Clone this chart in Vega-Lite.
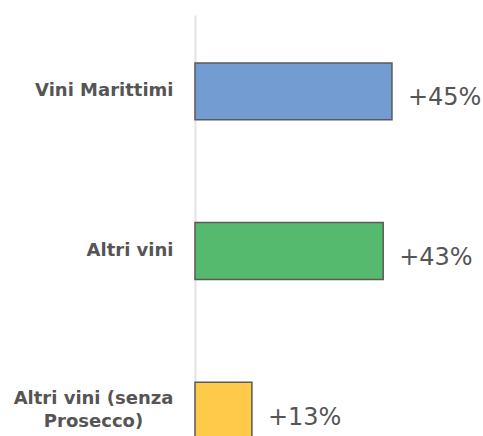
{
  "$schema": "https://vega.github.io/schema/vega-lite/v6.json",
  "autosize": "none",
  "padding": {"left": 195, "top": 15, "right": 0, "bottom": 0},
  "width": 288,
  "height": 472,
  "background": "white",
  "config": {"view": {"stroke": null}},
  "data": {
    "values": [
      {"categoria": "Vini Marittimi", "crescita": 45, "etichetta": "+45%"},
      {"categoria": "Altri vini", "crescita": 43, "etichetta": "+43%"},
      {"categoria": "Altri vini (senza Prosecco)", "crescita": 13, "etichetta": "+13%"}
    ]
  },
  "encoding": {
    "y": {
      "field": "categoria",
      "type": "nominal",
      "sort": null,
      "scale": {"paddingInner": 0.643, "paddingOuter": 0.3},
      "axis": {
        "title": null,
        "ticks": false,
        "tickSize": 0,
        "domainColor": "#e3e3e3",
        "domainWidth": 2,
        "labelFont": "DejaVu Sans",
        "labelFontWeight": "bold",
        "labelFontSize": 18,
        "labelColor": "#555555",
        "labelLineHeight": 23,
        "labelLimit": 300,
        "labelBaseline": "middle",
        "labelExpr": "datum.value == 'Altri vini (senza Prosecco)' ? ['Altri vini (senza', 'Prosecco)'] : datum.value",
        "labelAlign": {"condition": {"test": "datum.value == 'Altri vini (senza Prosecco)'", "value": "center"}, "value": "right"},
        "labelPadding": {"condition": {"test": "datum.value == 'Altri vini (senza Prosecco)'", "value": 102}, "value": 22},
        "labelOffset": {"condition": {"test": "datum.value == 'Altri vini (senza Prosecco)'", "value": -12}, "value": 0}
      }
    }
  },
  "layer": [
    {
      "mark": {"type": "bar", "stroke": "#5a5a5a", "strokeWidth": 1.5},
      "encoding": {
        "x": {"field": "crescita", "type": "quantitative", "scale": {"domain": [0, 65.8], "nice": false}, "axis": null},
        "color": {
          "field": "categoria",
          "type": "nominal",
          "scale": {"domain": ["Vini Marittimi", "Altri vini", "Altri vini (senza Prosecco)"], "range": ["#739dd2", "#56ba6e", "#ffc94a"]},
          "legend": null
        }
      }
    },
    {
      "mark": {"type": "text", "align": "left", "baseline": "middle", "dx": 16, "dy": 7, "font": "DejaVu Sans", "fontSize": 24, "color": "#555555"},
      "encoding": {
        "x": {"field": "crescita", "type": "quantitative"},
        "text": {"field": "etichetta"}
      }
    }
  ]
}
